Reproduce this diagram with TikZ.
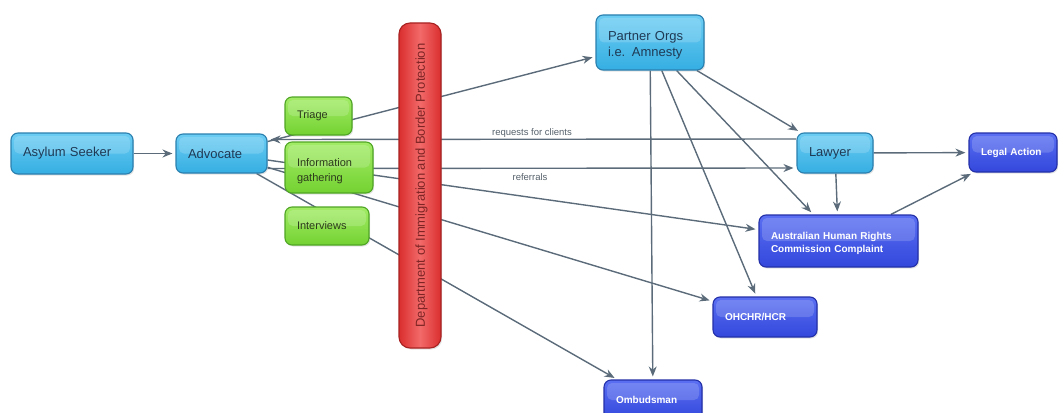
\documentclass[tikz,border=0pt]{standalone}
\usepackage{fontspec}
\setmainfont{Liberation Sans}
\usetikzlibrary{arrows.meta,calc,shadows}
\pgfdeclarelayer{bg}
\pgfsetlayers{bg,main}
\definecolor{edgec}{HTML}{5B6B7A}
\definecolor{cyanf}{HTML}{35AEE2}
\definecolor{cyant}{HTML}{6CCDF3}
\definecolor{cyanb}{HTML}{2A7FAE}
\definecolor{cyantx}{HTML}{1F3A55}
\definecolor{grnf}{HTML}{74D232}
\definecolor{grnt}{HTML}{A2EC66}
\definecolor{grnb}{HTML}{4FA524}
\definecolor{grntx}{HTML}{2C3A1C}
\definecolor{bluf}{HTML}{3347DC}
\definecolor{blut}{HTML}{5A6FF2}
\definecolor{blub}{HTML}{2330A8}
\definecolor{redd}{HTML}{DA2E2E}
\definecolor{redl}{HTML}{F26A6A}
\definecolor{redb}{HTML}{A82222}
\definecolor{redtx}{HTML}{7E2424}
\definecolor{lblc}{HTML}{55606A}
\tikzset{
  hl/.style={path picture={\fill[white,opacity=0.17,rounded corners=5pt]
     ($(path picture bounding box.north west)+(3pt,-3pt)$) rectangle
     ($(path picture bounding box.east)+(-3pt,0pt)$);}},
  boxbase/.style={rounded corners=7pt, inner xsep=12pt, inner ysep=0pt, align=left,
     line width=1.1pt, hl, drop shadow={opacity=0.22, shadow xshift=1.2pt, shadow yshift=-1.5pt}},
  cyanbox/.style={boxbase, draw=cyanb, top color=cyant, bottom color=cyanf, text=cyantx,
     font=\fontsize{13}{16}\selectfont},
  grnbox/.style={boxbase, draw=grnb, top color=grnt, bottom color=grnf, text=grntx,
     font=\fontsize{11}{15}\selectfont},
  blubox/.style={boxbase, draw=blub, top color=blut, bottom color=bluf, text=white,
     font=\bfseries\fontsize{10}{13.5}\selectfont},
  redbar/.style={rounded corners=11pt, draw=redb, line width=1.1pt, left color=redd,
     right color=redd, middle color=redl,
     drop shadow={opacity=0.22, shadow xshift=1.2pt, shadow yshift=-1.5pt}},
  conn/.style={draw=edgec, line width=1.4pt, -{Stealth[length=10pt,width=8pt]}, shorten >=3pt},
  lbl/.style={text=lblc, font=\fontsize{9.5}{11}\selectfont, inner sep=1pt}
}
\begin{document}
\begin{tikzpicture}[x=1pt,y=-1pt]
\useasboundingbox (0,0) rectangle (1059,412);
% nodes
\node[cyanbox, minimum height=41pt, text width=98pt] (asy) at (72,153.5) {Asylum Seeker};
\node[cyanbox, minimum height=39pt, text width=67pt] (adv) at (221.5,153.5) {Advocate};
\node[grnbox, minimum height=38pt, text width=43pt] (tri) at (318.5,116) {Triage};
\node[grnbox, minimum height=51pt, text width=64pt, text height=15pt] (inf) at (329,167.5) {Information\\gathering};
\node[grnbox, minimum height=38pt, text width=60pt] (int) at (327,226) {Interviews};
\node[redbar, minimum width=42pt, minimum height=325pt] (dept) at (420,185.5) {};
\node[rotate=90, text=redtx, font=\fontsize{13}{15}\selectfont, inner sep=0pt] (deptt) at ([xshift=1.5pt]dept.center) {Department of Immigration and Border Protection};
\node[cyanbox, minimum height=55pt, text width=84pt, text height=15pt] (par) at (650,42.5) {Partner Orgs\\i.e. Amnesty};
\node[cyanbox, minimum height=40pt, text width=52pt] (law) at (835,153) {Lawyer};
\node[blubox, minimum height=39pt, text width=64pt] (leg) at (1013,152.5) {Legal Action};
\node[blubox, minimum height=52pt, text width=135pt, text height=12.5pt] (ahrc) at (838.5,241) {Australian Human Rights\\Commission Complaint};
\node[blubox, minimum height=40pt, text width=80pt] (ohc) at (765,317) {OHCHR/HCR};
\node[blubox, minimum height=40pt, text width=74pt] (omb) at (653,400) {Ombudsman};
\node[lbl] (lreq) at (532,133) {requests for clients};
\node[lbl] (lref) at (530,177.5) {referrals};
% connectors
\begin{pgfonlayer}{bg}
\draw[conn] (asy) -- (adv);
\draw[conn] (adv) -- (par);
\draw[conn] ([yshift=14pt]law.west) -- ([yshift=14pt]adv.east);
\draw[conn] ([yshift=-15pt]adv.east) -- ([yshift=-15pt]law.west);
\draw[conn] (adv) -- (ahrc);
\draw[conn] (adv) -- (ohc);
\draw[conn] (adv) -- (omb);
\draw[conn] (par) -- (omb);
\draw[conn] (par) -- (ohc);
\draw[conn] (par) -- (ahrc);
\draw[conn] (par) -- (law);
\draw[conn] (law) -- (leg);
\draw[conn] (law) -- (ahrc);
\draw[conn] (ahrc) -- (leg);
\end{pgfonlayer}
\end{tikzpicture}
\end{document}
